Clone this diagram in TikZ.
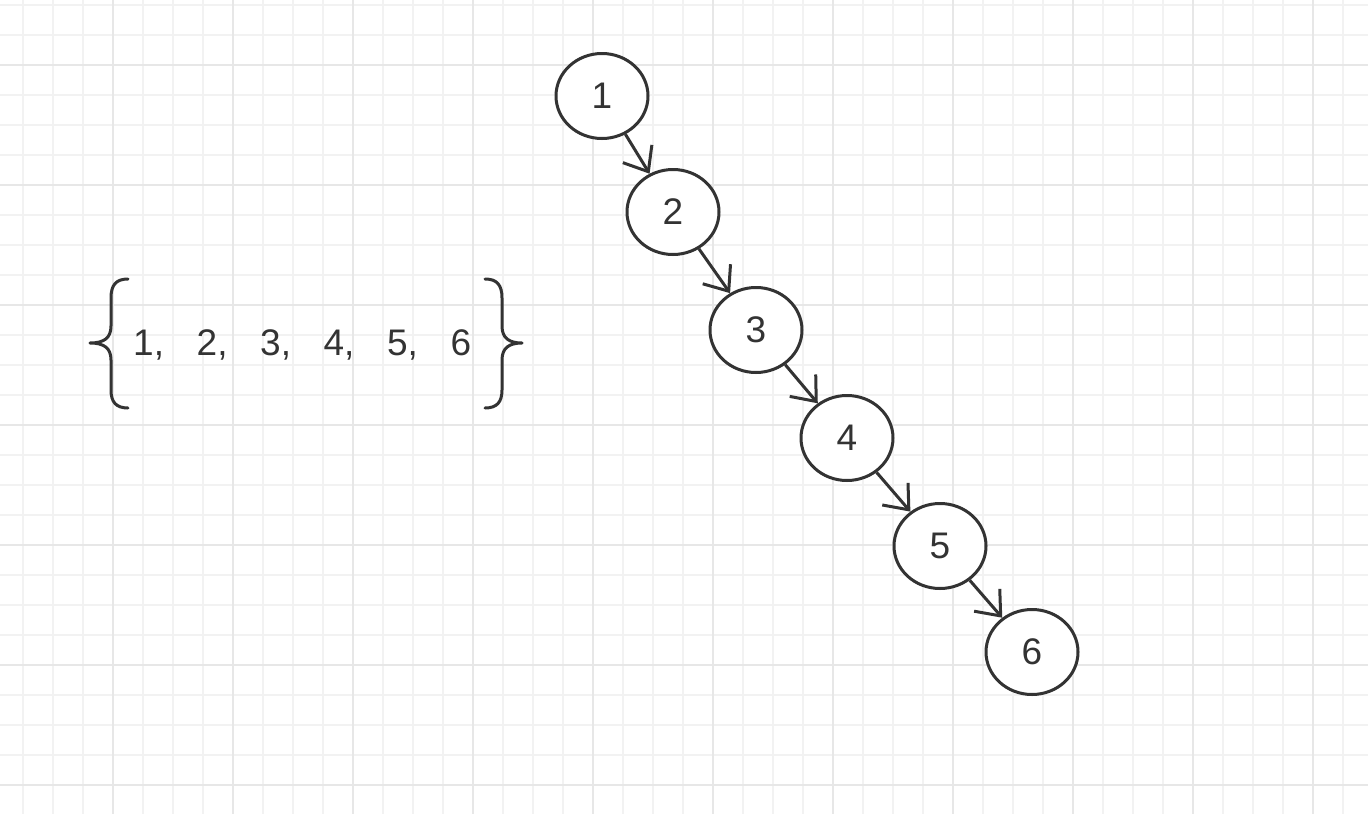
\documentclass[tikz,border=0pt]{standalone}
\usepackage{fontspec}
\setmainfont{Liberation Sans}
\usetikzlibrary{shapes.geometric,arrows.meta}
\definecolor{gridminor}{HTML}{F2F2F2}
\definecolor{gridmajor}{HTML}{E7E7E7}
\definecolor{ink}{HTML}{333333}
\tikzset{
  treenode/.style={ellipse,draw=ink,line width=3pt,fill=white,minimum width=92pt,minimum height=85pt,inner sep=0pt,text=ink,font=\fontsize{37}{40}\selectfont},
  link/.style={draw=ink,line width=3pt,-{Straight Barb[length=21pt,width=34pt,line width=3pt]}},
  bracepath/.style={draw=ink,line width=3pt,line cap=round,line join=round},
  settext/.style={text=ink,font=\fontsize{37}{40}\selectfont,inner sep=0pt,anchor=west}
}
\newcommand{\setitem}[1]{\makebox[63.5pt][l]{#1,}}
\begin{document}
\begin{tikzpicture}[x=1pt,y=-1pt]
\useasboundingbox (0,0) rectangle (1368,814);
\fill[white] (0,0) rectangle (1368,814);
% grid
\foreach \gx in {23,53,...,1368} \draw[gridminor,line width=1.6pt] (\gx,0) -- (\gx,814);
\foreach \gy in {5,35,...,814} \draw[gridminor,line width=1.6pt] (0,\gy) -- (1368,\gy);
\foreach \gx in {113,233,...,1368} \draw[gridmajor,line width=1.6pt] (\gx,0) -- (\gx,814);
\foreach \gy in {65,185,...,814} \draw[gridmajor,line width=1.6pt] (0,\gy) -- (1368,\gy);
% tree
\node[treenode] (n1) at (602,96) {1};
\node[treenode] (n2) at (673,212) {2};
\node[treenode] (n3) at (756,330) {3};
\node[treenode] (n4) at (847,438) {4};
\node[treenode] (n5) at (940,546) {5};
\node[treenode] (n6) at (1032,652) {6};
\draw[link] (n1) -- (n2);
\draw[link] (n2) -- (n3);
\draw[link] (n3) -- (n4);
\draw[link] (n4) -- (n5);
\draw[link] (n5) -- (n6);
% set
\node[settext] (set) at (133,345) {\setitem{1}\setitem{2}\setitem{3}\setitem{4}\setitem{5}6};
\draw[bracepath] (128,279) .. controls (116,279) and (111,285) .. (111,298) -- (111,326) .. controls (111,338) and (104,343) .. (90,343) .. controls (104,343) and (111,348) .. (111,360) -- (111,390) .. controls (111,402) and (116,408) .. (128,408);
\draw[bracepath] (485,279) .. controls (497,279) and (502,285) .. (502,298) -- (502,326) .. controls (502,338) and (509,343) .. (522,343) .. controls (509,343) and (502,348) .. (502,360) -- (502,390) .. controls (502,402) and (497,408) .. (485,408);
\end{tikzpicture}
\end{document}
